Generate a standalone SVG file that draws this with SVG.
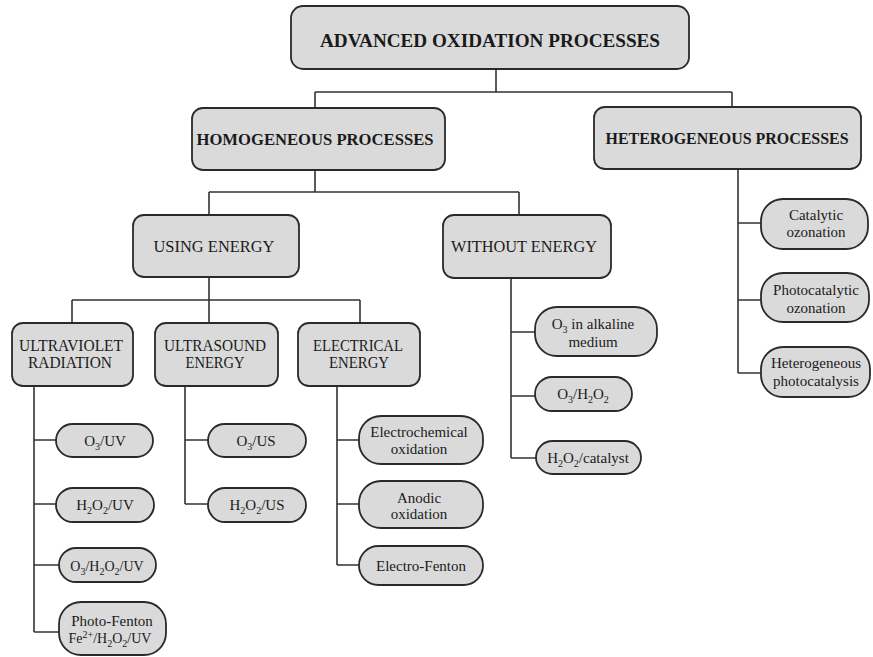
<svg xmlns="http://www.w3.org/2000/svg" width="873" height="657" viewBox="0 0 873 657">
<style>
.box{fill:#dadada;stroke:#2a2a2a;stroke-width:1.8}
.ln{fill:none;stroke:#333;stroke-width:1.6}
text{font-family:"Liberation Serif","Times New Roman",serif;fill:#1a1a1a;text-anchor:middle}
.h1{font-size:19px;font-weight:bold}
.h2{font-size:17px;font-weight:bold}
.h3{font-size:16px}
.p{font-size:15px}
.q{font-size:14px}
.s{font-size:10px}
</style>
<rect width="873" height="657" fill="#fff"/>
<g id="connectors">
<path class="ln" d="M496,69V92M315,92H732M315,92V107M732,92V107"/>
<path class="ln" d="M315,169V192M209,192H519M209,192V215M519,192V215"/>
<path class="ln" d="M209,277V323M72,300H360M72,300V323M360,300V323"/>
<path class="ln" d="M34,386V632M34,440H56M34,504H56M34,565H59M34,632H59"/>
<path class="ln" d="M185,386V504M185,440H208M185,504H208"/>
<path class="ln" d="M337,386V565M337,440H359M337,504H359M337,565H359"/>
<path class="ln" d="M511,278V458M511,332H535M511,396H535M511,458H536"/>
<path class="ln" d="M738,169V373M738,223H761M738,300H761M738,373H761"/>
</g>
<g id="aop"><rect class="box" x="291" y="6" width="398" height="63" rx="12"/><text class="h1" x="490" y="47" textLength="340" lengthAdjust="spacingAndGlyphs">ADVANCED OXIDATION PROCESSES</text></g>
<g id="homogeneous"><rect class="box" x="192" y="108" width="253" height="62" rx="11"/><text class="h2" x="315" y="145" textLength="237" lengthAdjust="spacingAndGlyphs">HOMOGENEOUS PROCESSES</text></g>
<g id="heterogeneous"><rect class="box" x="594" y="107" width="267" height="62" rx="11"/><text class="h2" x="727" y="144" textLength="243" lengthAdjust="spacingAndGlyphs">HETEROGENEOUS PROCESSES</text></g>
<g id="using"><rect class="box" x="133" y="215" width="166" height="62" rx="11"/><text class="h3" x="214" y="252" textLength="121" lengthAdjust="spacingAndGlyphs">USING ENERGY</text></g>
<g id="without"><rect class="box" x="443" y="215" width="168" height="63" rx="11"/><text class="h3" x="524" y="252" textLength="146" lengthAdjust="spacingAndGlyphs">WITHOUT ENERGY</text></g>
<g id="uv"><rect class="box" x="12" y="323" width="121" height="63" rx="11"/><text class="h3" x="71" y="351" textLength="104" lengthAdjust="spacingAndGlyphs">ULTRAVIOLET</text><text class="h3" x="70" y="368" textLength="84" lengthAdjust="spacingAndGlyphs">RADIATION</text></g>
<g id="ultrasound"><rect class="box" x="155" y="323" width="123" height="63" rx="11"/><text class="h3" x="215" y="351" textLength="102" lengthAdjust="spacingAndGlyphs">ULTRASOUND</text><text class="h3" x="215" y="368" textLength="59" lengthAdjust="spacingAndGlyphs">ENERGY</text></g>
<g id="electrical"><rect class="box" x="298" y="323" width="122" height="63" rx="11"/><text class="h3" x="358" y="351" textLength="90" lengthAdjust="spacingAndGlyphs">ELECTRICAL</text><text class="h3" x="359" y="368" textLength="60" lengthAdjust="spacingAndGlyphs">ENERGY</text></g>
<g id="o3uv"><rect class="box" x="56" y="424" width="97" height="33" rx="16.5"/><text class="p" x="105" y="446">O<tspan class="s" dy="4">3</tspan><tspan dy="-4">/UV</tspan></text></g>
<g id="h2o2uv"><rect class="box" x="56" y="488" width="98" height="34" rx="17"/><text class="p" x="105" y="510">H<tspan class="s" dy="4">2</tspan><tspan dy="-4">O</tspan><tspan class="s" dy="4">2</tspan><tspan dy="-4">/UV</tspan></text></g>
<g id="o3h2o2uv"><rect class="box" x="59" y="548" width="97" height="34" rx="17"/><text class="q" x="107" y="571">O<tspan class="s" dy="4">3</tspan><tspan dy="-4">/H</tspan><tspan class="s" dy="4">2</tspan><tspan dy="-4">O</tspan><tspan class="s" dy="4">2</tspan><tspan dy="-4">/UV</tspan></text></g>
<g id="photofenton"><rect class="box" x="59" y="602" width="107" height="53" rx="22"/><text class="p" x="112" y="626">Photo-Fenton</text><text class="q" x="110" y="643">Fe<tspan class="s" dy="-5">2+</tspan><tspan dy="5">/H</tspan><tspan class="s" dy="4">2</tspan><tspan dy="-4">O</tspan><tspan class="s" dy="4">2</tspan><tspan dy="-4">/UV</tspan></text></g>
<g id="o3us"><rect class="box" x="208" y="424" width="98" height="33" rx="16.5"/><text class="p" x="256" y="446">O<tspan class="s" dy="4">3</tspan><tspan dy="-4">/US</tspan></text></g>
<g id="h2o2us"><rect class="box" x="208" y="488" width="98" height="34" rx="17"/><text class="p" x="257" y="510">H<tspan class="s" dy="4">2</tspan><tspan dy="-4">O</tspan><tspan class="s" dy="4">2</tspan><tspan dy="-4">/US</tspan></text></g>
<g id="electrochemical"><rect class="box" x="359" y="416" width="124" height="48" rx="22"/><text class="p" x="419" y="437">Electrochemical</text><text class="p" x="419" y="454">oxidation</text></g>
<g id="anodic"><rect class="box" x="359" y="481" width="124" height="47" rx="22"/><text class="p" x="419" y="503">Anodic</text><text class="p" x="419" y="519">oxidation</text></g>
<g id="electrofenton"><rect class="box" x="359" y="546" width="124" height="39" rx="19.5"/><text class="p" x="421" y="571">Electro-Fenton</text></g>
<g id="o3alkaline"><rect class="box" x="535" y="307" width="122" height="49" rx="22"/><text class="p" x="593" y="329">O<tspan class="s" dy="4">3</tspan><tspan dy="-4"> in alkaline</tspan></text><text class="p" x="593" y="347">medium</text></g>
<g id="o3h2o2"><rect class="box" x="535" y="377" width="97" height="34" rx="17"/><text class="p" x="583" y="399">O<tspan class="s" dy="4">3</tspan><tspan dy="-4">/H</tspan><tspan class="s" dy="4">2</tspan><tspan dy="-4">O</tspan><tspan class="s" dy="4">2</tspan></text></g>
<g id="h2o2cat"><rect class="box" x="536" y="441" width="105" height="33" rx="16.5"/><text class="p" x="588" y="463">H<tspan class="s" dy="4">2</tspan><tspan dy="-4">O</tspan><tspan class="s" dy="4">2</tspan><tspan dy="-4">/catalyst</tspan></text></g>
<g id="catalytic"><rect class="box" x="761" y="199" width="107" height="50" rx="22"/><text class="p" x="816" y="220">Catalytic</text><text class="p" x="816" y="237">ozonation</text></g>
<g id="photocatalytic"><rect class="box" x="761" y="273" width="108" height="49" rx="22"/><text class="p" x="816" y="295">Photocatalytic</text><text class="p" x="816" y="313">ozonation</text></g>
<g id="photocatalysis"><rect class="box" x="761" y="347" width="109" height="50" rx="22"/><text class="p" x="816" y="368">Heterogeneous</text><text class="p" x="816" y="386">photocatalysis</text></g>
</svg>
